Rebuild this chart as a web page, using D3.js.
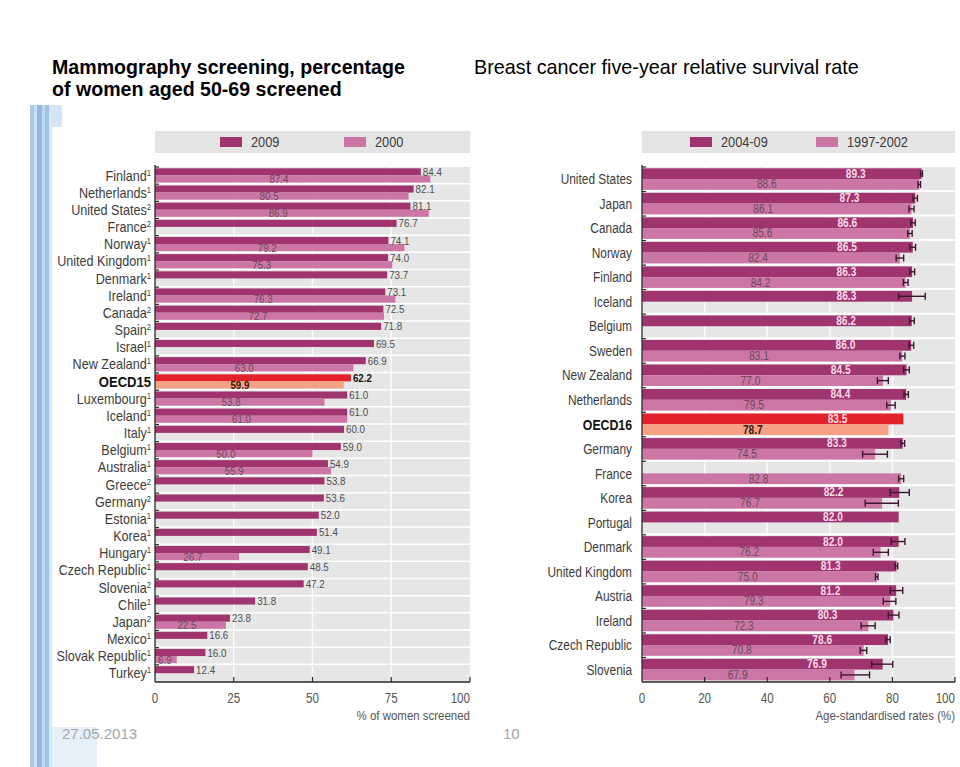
<!DOCTYPE html>
<html>
<head>
<meta charset="utf-8">
<script src="https://cdn.jsdelivr.net/npm/d3@7"></script>
<style>
  html, body { margin: 0; padding: 0; background: #ffffff; }
  svg { display: block; }
</style>
</head>
<body>
<svg id="chart" width="960" height="767"></svg>
<script>
// ---------- DATA ----------
const screeningCategories = ["Finland","Netherlands","United States","France","Norway","United Kingdom","Denmark","Ireland","Canada","Spain","Israel","New Zealand","OECD15","Luxembourg","Iceland","Italy","Belgium","Australia","Greece","Germany","Estonia","Korea","Hungary","Czech Republic","Slovenia","Chile","Japan","Mexico","Slovak Republic","Turkey"];
const screeningNotes = ["1","1","2","2","1","1","1","1","2","2","1","1","","1","1","1","1","1","2","2","1","1","1","1","2","1","2","1","1","1"];
const screening2009 = [84.4,82.1,81.1,76.7,74.1,74.0,73.7,73.1,72.5,71.8,69.5,66.9,62.2,61.0,61.0,60.0,59.0,54.9,53.8,53.6,52.0,51.4,49.1,48.5,47.2,31.8,23.8,16.6,16.0,12.4];
const screening2000 = [87.4,80.5,86.9,null,79.2,75.3,null,76.3,72.7,null,null,63.0,59.9,53.8,61.0,null,50.0,55.9,null,null,null,null,26.7,null,null,null,22.5,null,6.9,null];
const screeningTicks = [0,25,50,75,100];
const screeningSeries = ["2009","2000"];

const survivalCategories = ["United States","Japan","Canada","Norway","Finland","Iceland","Belgium","Sweden","New Zealand","Netherlands","OECD16","Germany","France","Korea","Portugal","Denmark","United Kingdom","Austria","Ireland","Czech Republic","Slovenia"];
const survival0409 = [89.3,87.3,86.6,86.5,86.3,86.3,86.2,86.0,84.5,84.4,83.5,83.3,null,82.2,82.0,82.0,81.3,81.2,80.3,78.6,76.9];
const survival9702 = [88.6,86.1,85.6,82.4,84.2,null,null,83.1,77.0,79.5,78.7,74.5,82.8,76.7,null,76.2,75.0,79.3,72.3,70.8,67.9];
const ci0409Low  = [89.0,86.6,85.9,85.6,85.6,82.0,85.5,85.3,83.6,83.7,null,82.7,null,79.3,null,79.6,80.9,79.3,78.7,77.9,73.4];
const ci0409High = [89.6,88.0,87.3,87.4,87.1,90.5,87.0,86.8,85.4,85.1,null,83.9,null,85.4,null,84.0,81.7,83.3,82.1,79.3,80.1];
const ci9702Low  = [88.2,85.3,84.9,81.2,83.5,null,null,82.4,75.2,78.2,null,70.5,82.0,71.3,null,73.9,74.6,77.1,70.0,69.7,63.6];
const ci9702High = [89.0,86.9,86.3,83.6,85.0,null,null,84.0,78.7,80.9,null,78.4,83.6,81.9,null,78.7,75.4,81.1,74.5,71.8,72.7];
const survivalTicks = [0,20,40,60,80,100];
const survivalSeries = ["2004-09","1997-2002"];

// ---------- STYLE ----------
const C = {
  dark: "#a0346f", light: "#cb76a4",
  red: "#e2222a", salmon: "#f6a183",
  plotBg: "#e6e6e6", legendBg: "#e4e4e4",
  axis: "#2a2a2a", label: "#3c3c3c", err: "#3e1530"
};
const sans = "'Liberation Sans',Arial,Helvetica,sans-serif";
const svg = d3.select("#chart");
// condensed text: place with translate and squeeze horizontally
const tf = (x, y, sx) => `translate(${x},${y}) scale(${sx},1)`;

// decorative left stripes of the slide
const stripes = [
  {x:30, w:4, c:"#a8c9e8"}, {x:34, w:3, c:"#cde0f3"}, {x:37, w:5, c:"#8fb9e2"},
  {x:42, w:3, c:"#c0d8ef"}, {x:45, w:4, c:"#9cc2e6"}, {x:49, w:3, c:"#d6e7f6"}
];
svg.selectAll("rect.stripe").data(stripes).join("rect")
  .attr("x", d => d.x).attr("y", 105).attr("width", d => d.w).attr("height", 662)
  .attr("fill", d => d.c);
svg.append("rect").attr("x", 52).attr("y", 105).attr("width", 10).attr("height", 22).attr("fill", "#d3e5f5");
svg.append("rect").attr("x", 52).attr("y", 727).attr("width", 45).attr("height", 40).attr("fill", "#e6f0fa");

// titles
svg.append("text").attr("x", 52).attr("y", 74)
  .style("font-family", sans).style("font-size", "19.6px").style("font-weight", "bold")
  .attr("fill", "#000").text("Mammography screening, percentage");
svg.append("text").attr("x", 52).attr("y", 96)
  .style("font-family", sans).style("font-size", "19.6px").style("font-weight", "bold")
  .attr("fill", "#000").text("of women aged 50-69 screened");
svg.append("text").attr("x", 474).attr("y", 74)
  .style("font-family", sans).style("font-size", "19.8px")
  .attr("fill", "#000").text("Breast cancer five-year relative survival rate");

// footer
svg.append("text").attr("x", 62).attr("y", 739)
  .style("font-family", sans).style("font-size", "15px")
  .attr("fill", "#a6a6a6").text("27.05.2013");
svg.append("text").attr("x", 503).attr("y", 739)
  .style("font-family", sans).style("font-size", "15px")
  .attr("fill", "#a6a6a6").text("10");

// ---------- PANEL ----------
function panel(cfg) {
  const g = svg.append("g");
  const x = d3.scaleLinear().domain([0, 100]).range([cfg.x0, cfg.x1]);
  const y = d3.scaleBand().domain(cfg.categories).range([cfg.y0, cfg.y1]).padding(0);
  const bw = y.bandwidth();
  const barH = (bw - cfg.gap) / 2;

  // legend
  g.append("rect").attr("x", cfg.x0).attr("y", 131).attr("width", cfg.x1 - cfg.x0).attr("height", 22).attr("fill", C.legendBg);
  cfg.series.forEach((s, i) => {
    const lx = cfg.legendX[i];
    g.append("rect").attr("x", lx).attr("y", 137).attr("width", 22).attr("height", 10).attr("fill", i === 0 ? C.dark : C.light);
    g.append("text").attr("transform", tf(lx + 31, 147, 0.88)).style("font-family", sans).style("font-size", "14.5px")
      .attr("fill", C.label).text(s);
  });

  // plot background
  g.append("rect").attr("x", cfg.x0).attr("y", cfg.y0).attr("width", cfg.x1 - cfg.x0).attr("height", cfg.y1 - cfg.y0).attr("fill", C.plotBg);
  // vertical grid
  g.selectAll("line.vg").data(cfg.ticks.slice(1, -1)).join("line")
    .attr("x1", d => x(d)).attr("x2", d => x(d)).attr("y1", cfg.y0).attr("y2", cfg.y1)
    .attr("stroke", "#fbfbfb").attr("stroke-width", 1.5);
  // row separators
  g.selectAll("line.hs").data(cfg.categories.slice(1)).join("line")
    .attr("x1", cfg.x0).attr("x2", cfg.x1).attr("y1", d => y(d) - 0.5).attr("y2", d => y(d) - 0.5)
    .attr("stroke", "#ffffff").attr("stroke-width", cfg.sepW);

  const isO = d => d.startsWith("OECD");
  const rows = cfg.categories.map((c, i) => ({c, i, a: cfg.a[i], b: cfg.b[i]}));

  // bars
  g.selectAll("rect.a").data(rows.filter(r => r.a != null)).join("rect")
    .attr("x", x(0)).attr("y", r => y(r.c) + cfg.pad).attr("width", r => x(r.a) - x(0)).attr("height", barH)
    .attr("fill", r => isO(r.c) ? C.red : C.dark);
  g.selectAll("rect.b").data(rows.filter(r => r.b != null)).join("rect")
    .attr("x", x(0)).attr("y", r => y(r.c) + cfg.pad + barH).attr("width", r => x(r.b) - x(0)).attr("height", barH)
    .attr("fill", r => isO(r.c) ? C.salmon : C.light);

  // error bars
  if (cfg.errA) {
    const errs = [];
    rows.forEach(r => {
      if (cfg.errA[0][r.i] != null) errs.push({lo: cfg.errA[0][r.i], hi: cfg.errA[1][r.i], cy: y(r.c) + cfg.pad + barH / 2});
      if (cfg.errB[0][r.i] != null) errs.push({lo: cfg.errB[0][r.i], hi: cfg.errB[1][r.i], cy: y(r.c) + cfg.pad + barH * 1.5});
    });
    const eg = g.append("g").attr("stroke", C.err).attr("stroke-width", 1.4).attr("fill", "none");
    eg.selectAll("line.e").data(errs).join("line")
      .attr("x1", d => x(d.lo)).attr("x2", d => x(d.hi)).attr("y1", d => d.cy).attr("y2", d => d.cy);
    eg.selectAll("line.l").data(errs).join("line")
      .attr("x1", d => x(d.lo)).attr("x2", d => x(d.lo)).attr("y1", d => d.cy - 3.5).attr("y2", d => d.cy + 3.5);
    eg.selectAll("line.h").data(errs).join("line")
      .attr("x1", d => x(d.hi)).attr("x2", d => x(d.hi)).attr("y1", d => d.cy - 3.5).attr("y2", d => d.cy + 3.5);
  }

  // value labels
  const fmt = d3.format(".1f");
  g.selectAll("text.va").data(rows.filter(r => r.a != null)).join("text")
    .attr("transform", r => tf(cfg.aInside ? x(r.a - 21) : x(r.a) + 2, y(r.c) + cfg.pad + barH / 2 + 4, 0.85))
    .attr("text-anchor", cfg.aInside ? "middle" : "start")
    .style("font-family", sans).style("font-size", cfg.valSize)
    .style("font-weight", r => (isO(r.c) || cfg.aInside) ? "bold" : "normal")
    .attr("fill", r => cfg.aInside ? "#f7dcea" : (isO(r.c) ? "#111" : "#4f4f4f"))
    .text(r => fmt(r.a));
  g.selectAll("text.vb").data(rows.filter(r => r.b != null)).join("text")
    .attr("transform", r => tf(x(r.b * 0.45), y(r.c) + cfg.pad + barH * 1.5 + 4, 0.85))
    .attr("text-anchor", "middle")
    .style("font-family", sans).style("font-size", cfg.valSize)
    .style("font-weight", r => isO(r.c) ? "bold" : "normal")
    .attr("fill", r => isO(r.c) ? "#3a1a10" : "#6c4a5c")
    .text(r => fmt(r.b));

  // category labels
  const lab = g.selectAll("text.cat").data(rows).join("text")
    .attr("transform", r => tf(cfg.x0 - cfg.labelOff, y(r.c) + bw / 2 + 5, cfg.catScale))
    .attr("text-anchor", "end")
    .style("font-family", sans).style("font-size", r => isO(r.c) ? cfg.oSize : cfg.catSize)
    .style("font-weight", r => isO(r.c) ? "bold" : "normal")
    .attr("fill", r => isO(r.c) ? "#111" : C.label);
  lab.append("tspan").text(r => r.c);
  if (cfg.notes) {
    lab.append("tspan").attr("dy", -5).style("font-size", "8.5px").text(r => cfg.notes[r.i]);
  }

  // axes
  g.append("line").attr("x1", cfg.x0).attr("x2", cfg.x0).attr("y1", cfg.y0 - 2).attr("y2", cfg.y1)
    .attr("stroke", C.axis).attr("stroke-width", 1.3);
  g.append("line").attr("x1", cfg.x0).attr("x2", cfg.x1).attr("y1", cfg.y1).attr("y2", cfg.y1)
    .attr("stroke", C.axis).attr("stroke-width", 1.3);
  g.selectAll("line.rt").data(cfg.categories).join("line")
    .attr("x1", cfg.x0).attr("x2", cfg.x0 + 4).attr("y1", d => y(d)).attr("y2", d => y(d))
    .attr("stroke", C.axis).attr("stroke-width", 1.2);
  g.selectAll("line.xt").data(cfg.ticks.slice(1)).join("line")
    .attr("x1", d => x(d)).attr("x2", d => x(d)).attr("y1", cfg.y1).attr("y2", cfg.y1 - 5)
    .attr("stroke", C.axis).attr("stroke-width", 1.2);
  g.selectAll("text.xt").data(cfg.ticks).join("text")
    .attr("transform", d => tf(x(d), cfg.y1 + 21, 0.8))
    .attr("text-anchor", (d, i) => i === cfg.ticks.length - 1 ? "end" : "middle")
    .style("font-family", sans).style("font-size", "14.5px").attr("fill", "#555")
    .text(d => d);
  g.append("text").attr("transform", tf(cfg.x1, cfg.y1 + 38, 0.85)).attr("text-anchor", "end")
    .style("font-family", sans).style("font-size", "13.5px").attr("fill", "#555").text(cfg.axisTitle);
}

panel({
  categories: screeningCategories, notes: screeningNotes,
  a: screening2009, b: screening2000, series: screeningSeries, ticks: screeningTicks,
  x0: 155, x1: 470, y0: 167, y1: 682, gap: 3, pad: 1.3, sepW: 1.5,
  legendX: [220, 344], labelOff: 4, catSize: "14px", oSize: "14.5px", catScale: 0.9, valSize: "11.5px",
  aInside: false, axisTitle: "% of women screened"
});

panel({
  categories: survivalCategories, notes: null,
  a: survival0409, b: survival9702, series: survivalSeries, ticks: survivalTicks,
  errA: [ci0409Low, ci0409High], errB: [ci9702Low, ci9702High],
  x0: 642, x1: 955, y0: 167, y1: 682, gap: 3, pad: 1.3, sepW: 2,
  legendX: [690, 816], labelOff: 10, catSize: "14.5px", oSize: "15px", catScale: 0.82, valSize: "12px",
  aInside: true, axisTitle: "Age-standardised rates (%)"
});
</script>
</body>
</html>
